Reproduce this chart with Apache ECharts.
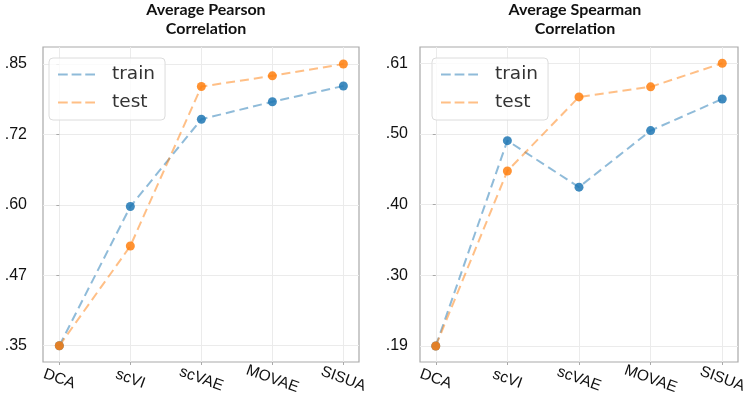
<!DOCTYPE html>
<html>
<head>
<meta charset="utf-8">
<script src="https://cdn.jsdelivr.net/npm/echarts@6/dist/echarts.min.js"></script>
<style>
html,body{margin:0;padding:0;background:#fff;}
#chart{width:750px;height:403px;}
</style>
</head>
<body>
<div id="chart"></div>
<script>
const categories = ['DCA', 'scVI', 'scVAE', 'MOVAE', 'SISUA'];
const seriesNames = ['train', 'test'];
const pearsonTrain = [0.350, 0.597, 0.752, 0.783, 0.811];
const pearsonTest = [0.350, 0.527, 0.810, 0.829, 0.850];
const spearmanTrain = [0.190, 0.495, 0.426, 0.510, 0.557];
const spearmanTest = [0.190, 0.450, 0.560, 0.575, 0.610];
const pearsonTicks = [0.35, 0.475, 0.6, 0.725, 0.85];
const pearsonTickLabels = ['.35', '.47', '.60', '.72', '.85'];
const spearmanTicks = [0.19, 0.295, 0.40, 0.505, 0.61];
const spearmanTickLabels = ['.19', '.30', '.40', '.50', '.61'];
const titles = ['Average Pearson\nCorrelation', 'Average Spearman\nCorrelation'];

const catIdx = categories.map((c, i) => i);
const toPairs = arr => arr.map((v, i) => [i, v]);
const labelFor = (ticks, labels) => v => {
  let best = 0;
  ticks.forEach((t, i) => { if (Math.abs(t - v) < Math.abs(ticks[best] - v)) best = i; });
  return labels[best];
};

const BLUE = 'rgba(31,119,180,0.85)';
const ORANGE = 'rgba(255,127,14,0.85)';
const BLUE_L = 'rgba(31,119,180,0.5)';
const ORANGE_L = 'rgba(255,127,14,0.5)';
const BOX = '#a9a9a9';
const dashIcon = 'path://M0,0H10V2H0Z M14,0H24V2H14Z M28,0H38V2H28Z';

function xAxisDef(gi, min, max) {
  return {
    type: 'value', gridIndex: gi, min: min, max: max,
    axisLine: {show: false},
    axisTick: {show: true, length: 3, customValues: catIdx, lineStyle: {color: BOX}},
    splitLine: {show: true, lineStyle: {color: '#ebebeb', width: 1}},
    axisLabel: {
      customValues: catIdx, formatter: v => categories[Math.round(v)],
      rotate: -20, align: 'center', verticalAlign: 'middle', margin: 17,
      fontFamily: 'Liberation Sans', fontSize: 15.5, color: '#111'
    }
  };
}
function yAxisDef(gi, min, max, ticks, labels, margin) {
  return {
    type: 'value', gridIndex: gi, min: min, max: max,
    axisLine: {show: false},
    axisTick: {show: true, length: 3, customValues: ticks, lineStyle: {color: BOX}},
    splitLine: {show: true, lineStyle: {color: '#ebebeb', width: 1}},
    axisLabel: {
      customValues: ticks, formatter: labelFor(ticks, labels), margin: margin,
      fontFamily: 'Liberation Sans', fontSize: 16, color: '#111'
    }
  };
}
function lineSeries(name, gi, data, color, lightColor) {
  return {
    type: 'line', name: name, xAxisIndex: gi, yAxisIndex: gi,
    data: toPairs(data), symbol: 'circle', symbolSize: 9,
    itemStyle: {color: color},
    lineStyle: {color: lightColor, width: 2, type: [9, 5]},
    emphasis: {disabled: true}, animation: false
  };
}
function legendDef(left) {
  return {
    orient: 'vertical', left: left, top: 58,
    padding: [7, 10, 8, 9], itemGap: 9,
    borderColor: '#dcdcdc', borderWidth: 1, borderRadius: 4,
    backgroundColor: 'rgba(255,255,255,0.8)',
    itemWidth: 37, itemHeight: 19,
    data: [
      {name: seriesNames[0], icon: dashIcon, itemStyle: {color: BLUE_L}},
      {name: seriesNames[1], icon: dashIcon, itemStyle: {color: ORANGE_L}}
    ],
    textStyle: {fontFamily: 'DejaVu Sans', fontSize: 18.5, color: '#333', padding: [0, 0, 0, 12]},
    selectedMode: false
  };
}

const chart = echarts.init(document.getElementById('chart'), null, {renderer: 'canvas'});
chart.setOption({
  animation: false,
  backgroundColor: '#fff',
  title: [
    {text: titles[0], left: 206, top: 0, textAlign: 'center', padding: 0,
     textStyle: {fontFamily: 'Lato', fontWeight: 'bold', fontSize: 16, lineHeight: 19.5, color: '#111'}},
    {text: titles[1], left: 575, top: 0, textAlign: 'center', padding: 0,
     textStyle: {fontFamily: 'Lato', fontWeight: 'bold', fontSize: 16, lineHeight: 19.5, color: '#111'}}
  ],
  grid: [
    {left: 43, top: 47, width: 316, height: 315, show: true, borderColor: BOX, borderWidth: 1.2},
    {left: 420, top: 47, width: 318, height: 315, show: true, borderColor: BOX, borderWidth: 1.2}
  ],
  legend: [legendDef(49), legendDef(432)],
  xAxis: [xAxisDef(0, -0.23, 4.22), xAxisDef(1, -0.22, 4.22)],
  yAxis: [
    yAxisDef(0, 0.3211, 0.8802, pearsonTicks, pearsonTickLabels, 16),
    yAxisDef(1, 0.1662, 0.6342, spearmanTicks, spearmanTickLabels, 12)
  ],
  series: [
    lineSeries(seriesNames[0], 0, pearsonTrain, BLUE, BLUE_L),
    lineSeries(seriesNames[1], 0, pearsonTest, ORANGE, ORANGE_L),
    lineSeries(seriesNames[0], 1, spearmanTrain, BLUE, BLUE_L),
    lineSeries(seriesNames[1], 1, spearmanTest, ORANGE, ORANGE_L)
  ]
});
</script>
</body>
</html>
